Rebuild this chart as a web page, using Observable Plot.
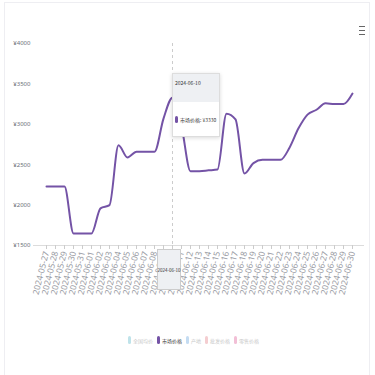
<!DOCTYPE html>
<html><head><meta charset="utf-8">
<script src="https://cdn.jsdelivr.net/npm/d3@7"></script>
<script src="https://cdn.jsdelivr.net/npm/@observablehq/plot@0.6"></script>
<style>
body{margin:0;background:#fff;font-family:"Noto Sans CJK SC","Noto Sans",sans-serif;}
#wrap{position:relative;width:375px;height:375px;overflow:hidden;background:#fff;}
#frame{position:absolute;left:4px;top:2px;width:366px;height:380px;border:1px solid #eeeef2;box-sizing:border-box;}
#plot{position:absolute;left:0;top:0;}
#menu{position:absolute;left:359px;top:26px;width:6px;}
#menu div{height:1px;background:#666;margin-bottom:3px;}
#tip{position:absolute;left:172px;top:73px;width:48px;height:64px;background:#fff;border:1px solid #ddd;box-shadow:0 1px 4px rgba(0,0,0,0.15);box-sizing:border-box;font-size:5px;color:#333;}
#tip .hd{height:28px;background:#eef0f3;padding:5px 2px;box-sizing:border-box;}
#tip .row{display:flex;align-items:center;padding:14px 2px 0 2px;white-space:nowrap;}
#tip .dot{width:3px;height:7px;border-radius:2px;background:#7453a6;margin-right:2px;}
#xlab{position:absolute;left:157px;top:249px;width:24px;height:41px;background:#eef0f3;border:1px solid #ccc;box-sizing:border-box;font-size:4.5px;color:#333;display:flex;align-items:center;justify-content:center;white-space:nowrap;}
#legend{position:absolute;left:128px;top:336px;display:flex;align-items:center;font-size:5px;white-space:nowrap;}
#legend .it{display:flex;align-items:center;margin-right:4px;}
#legend .ic{width:3px;height:8px;border-radius:1.5px;margin-right:2px;}
</style></head><body><div id="wrap"><div id="frame"></div><div id="plot"></div><div id="menu"><div></div><div></div><div></div></div><div id="xlab"></div><div id="tip"><div class="hd"></div><div class="row"><div class="dot"></div><span class="tx"></span></div></div><div id="legend"></div></div>
<script>
const dates = [
"2024-05-27","2024-05-28","2024-05-29","2024-05-30","2024-05-31",
"2024-06-01","2024-06-02","2024-06-03","2024-06-04","2024-06-05",
"2024-06-06","2024-06-07","2024-06-08","2024-06-09","2024-06-10",
"2024-06-11","2024-06-12","2024-06-13","2024-06-14","2024-06-15",
"2024-06-16","2024-06-17","2024-06-18","2024-06-19","2024-06-20",
"2024-06-21","2024-06-22","2024-06-23","2024-06-24","2024-06-25",
"2024-06-26","2024-06-27","2024-06-28","2024-06-29","2024-06-30"];
const prices = [2230,2230,2230,1650,1650,1650,1960,2000,2740,2590,
2660,2660,2660,3070,3330,2980,2420,2420,2430,2440,
3130,3060,2390,2520,2560,2560,2560,2710,2950,3120,
3180,3260,3250,3250,3380];
const yTicks = [1500,2000,2500,3000,3500,4000];
const legendNames = ["全国均价","市场价格","产地","批发价格","零售价格"];
const legendColors = ["#bfe3ea","#7453a6","#c4dcf2","#f4cdd0","#f2bfd6"];
const activeSeries = "市场价格";
const activeDate = "2024-06-10";

const data = dates.map((d,i)=>({date:d, price:prices[i]}));
const activeValue = prices[dates.indexOf(activeDate)];

const chart = Plot.plot({
  width:375, height:375,
  marginTop:43, marginBottom:130, marginLeft:33, marginRight:11,
  x:{type:"point", domain:dates, padding:0},
  y:{domain:[yTicks[0], yTicks[yTicks.length-1]]},
  style:{fontFamily:'"Noto Sans", sans-serif', background:"transparent"},
  marks:[
    Plot.ruleY([yTicks[0]], {stroke:"#dcdcdc"}),
    Plot.axisY({ticks:yTicks, tickSize:0, tickPadding:3, tickFormat:d=>"¥"+d, fontSize:6, fill:"#6e7079", label:null}),
    Plot.axisX({tickSize:4, tickPadding:2, tickRotate:-76, fontSize:8.5, fill:"#9a9ca4", stroke:"#ccc", label:null}),
    Plot.ruleX([activeDate], {y1:yTicks[yTicks.length-1], y2:yTicks[0], stroke:"#ccc", strokeDasharray:"3,3"}),
    Plot.lineY(data, {x:"date", y:"price", stroke:"#7453a6", strokeWidth:2, curve:"monotone-x"})
  ]
});
document.getElementById("plot").appendChild(chart);

document.querySelector("#tip .hd").textContent = activeDate;
document.querySelector("#tip .tx").textContent = activeSeries + ": ¥" + activeValue;
document.getElementById("xlab").textContent = activeDate;

const lg = document.getElementById("legend");
legendNames.forEach((n,i)=>{
  const it = document.createElement("div"); it.className="it";
  const ic = document.createElement("div"); ic.className="ic"; ic.style.background=legendColors[i];
  const tx = document.createElement("span"); tx.textContent=n;
  tx.style.color = n===activeSeries ? "#333" : "#c8c8c8";
  it.appendChild(ic); it.appendChild(tx); lg.appendChild(it);
});
</script></body></html>
